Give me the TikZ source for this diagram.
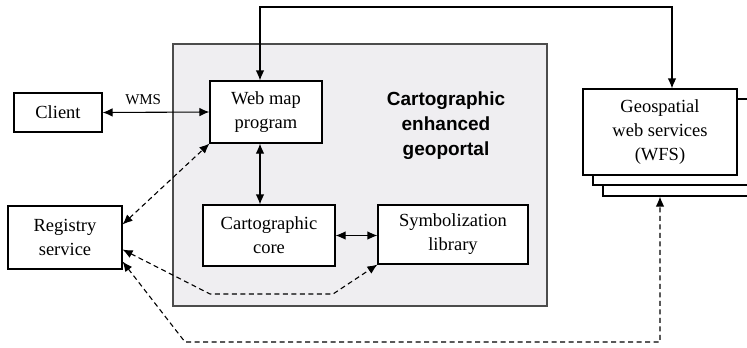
\documentclass[tikz,border=0pt]{standalone}
\usepackage{fontspec}
\setmainfont{Liberation Serif}
\newfontfamily\titlefont{Liberation Sans}
\usetikzlibrary{arrows.meta}
\definecolor{portalgray}{RGB}{239,238,241}
\tikzset{
    box/.style={draw, line width=1.1pt, fill=white, rectangle, inner sep=0pt, align=center,
        font=\fontsize{18.5}{24}\selectfont},
    link/.style={line width=1.1pt, {Latex[length=10pt,width=8.5pt]}-{Latex[length=10pt,width=8.5pt]}},
    dlink/.style={link, dash pattern=on 5pt off 3.5pt}
}
\begin{document}
\begin{tikzpicture}[x=1pt, y=-1pt]
    \useasboundingbox (0,0) rectangle (747,348);
    \clip (0,0) rectangle (747,348);

    % geoportal
    \node[draw=black!70, line width=1.6pt, fill=portalgray, minimum width=374, minimum height=262,
        inner sep=0pt] (portal) at (360,175) {};
    \node[font=\titlefont\fontsize{19}{25}\selectfont\bfseries, align=center] (title) at (446,126)
        {Cartographic\\enhanced\\geoportal};

    % boxes
    \node[box, minimum width=88, minimum height=39] (client) at (58,112.5) {Client};
    \node[box, minimum width=112, minimum height=62] (webmap) at (266,112) {Web map\\program};
    \node[box, minimum width=114, minimum height=63] (registry) at (65,237.5) {Registry\\service};
    \node[box, minimum width=132, minimum height=61] (carto) at (269,235.5) {Cartographic\\core};
    \node[box, minimum width=150, minimum height=59] (symbol) at (453,234.5) {Symbolization\\library};

    % web services (stack)
    \node[box, minimum width=155, minimum height=86] (geoback) at (680.5,153) {};
    \node[box, minimum width=155, minimum height=86] (geomid) at (670.5,142) {};
    \node[box, minimum width=154, minimum height=86] (geo) at (660,132)
        {Geospatial\\web services\\(WFS)};

    % bend points
    \coordinate (toprail) at (400,7);
    \coordinate (midA) at (210,294);
    \coordinate (midB) at (333,294);
    \coordinate (botbend) at (185,342);

    % links
    \draw[link] (client.east) -- (webmap.west)
        node[pos=0.38, above=4pt, font=\fontsize{15}{15}\selectfont] (wms) {WMS};
    \draw[link] ([xshift=-6pt]webmap.south) -- ([xshift=-6pt]webmap.south |- carto.north);
    \draw[link] (carto.east) -- (carto.east -| symbol.west);
    \draw[link] ([xshift=-6pt]webmap.north) |- (toprail) -| ([xshift=12pt]geo.north);

    % dashed links to registry
    \draw[dlink] ([yshift=13pt]registry.east) -- (webmap.south west);
    \draw[dlink] ([yshift=-12pt]registry.east) -- (midA) -- (midB) -- (symbol.south west);
    \draw[dlink] ([yshift=-24pt]registry.east) -- (botbend) -| (geo.south |- geoback.south);
\end{tikzpicture}
\end{document}
